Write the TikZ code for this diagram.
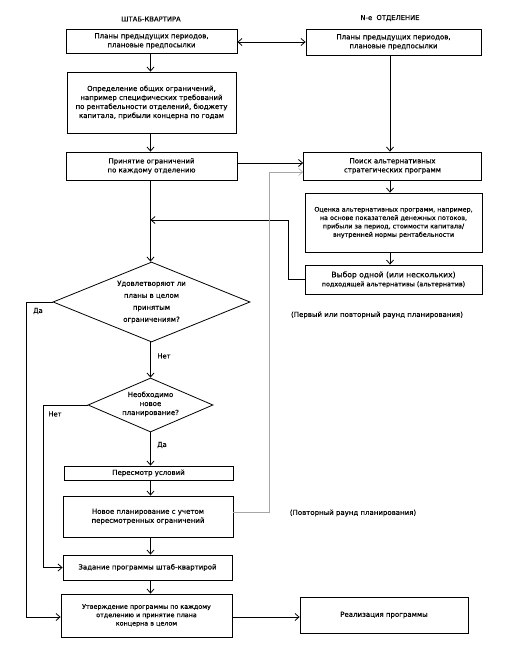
\documentclass[tikz,border=0pt]{standalone}
\usepackage{fontspec}
\setmainfont{DejaVu Sans}[FakeBold=0.35]
\usetikzlibrary{arrows.meta,shapes.geometric}
\begin{document}
\begin{tikzpicture}[x=1pt,y=-1pt,
  box/.style={draw, line width=0.8pt, inner sep=0pt, align=center, font=\fontsize{7}{9}\selectfont},
  dia/.style={draw, diamond, line width=0.8pt, inner sep=0pt},
  txt/.style={align=center, font=\fontsize{7}{9}\selectfont, inner sep=0pt},
  small/.style={font=\fontsize{6.4}{8.4}\selectfont},
  note/.style={font=\fontsize{7}{9}\selectfont},
  ttl/.style={font=\fontsize{6.8}{8}\selectfont, inner sep=0pt},
  lbl/.style={font=\fontsize{6.8}{8}\selectfont, inner sep=0pt},
  ln/.style={line width=0.8pt},
  arw/.style={line width=0.8pt, -{Straight Barb[length=4pt,width=7pt]}},
  darw/.style={line width=0.8pt, {Straight Barb[length=4pt,width=7pt]}-{Straight Barb[length=4pt,width=7pt]}},
  garw/.style={line width=0.6pt, draw=black!35, -{Straight Barb[length=4pt,width=7pt]}},
]
\useasboundingbox (0,0) rectangle (518,648);

% titles
\node[ttl] (t1) at (151,19) {ШТАБ-КВАРТИРА};
\node[ttl] (t2) at (390,18) {N-е\ \ ОТДЕЛЕНИЕ};

% left column
\node[box, minimum width=171pt, minimum height=24pt] (A) at (151.5,41) {Планы предыдущих периодов,\\ плановые предпосылки};
\node[box, minimum width=169pt, minimum height=61pt] (C) at (151.5,102.5) {Определение общих ограничений,\\ например специфических требований\\ по рентабельности отделений, бюджету\\ капитала, прибыли концерна по годам};
\node[box, minimum width=171pt, minimum height=28pt] (D) at (151.5,166) {Принятие ограничений\\ по каждому отделению};

% right column
\node[box, minimum width=175pt, minimum height=26pt] (B) at (393.5,42) {Планы предыдущих периодов,\\ плановые предпосылки};
\node[box, minimum width=178pt, minimum height=28pt] (E) at (392.5,166) {Поиск альтернативных\\ стратегических программ};
\node[box, small, minimum width=177pt, minimum height=59pt] (F) at (393.5,222.5) {Оценка альтернативных программ, например,\\ на основе показателей денежных потоков,\\ прибыли за период, стоимости капитала/\\ внутренней нормы рентабельности};
\node[box, minimum width=177pt, minimum height=29pt] (G) at (393.5,279.5) {{\fontsize{7.6}{9}\selectfont Выбор одной (или нескольких)}\\ {\fontsize{6.4}{8.4}\selectfont подходящей альтернативы (альтернатив)}};
\node[txt, note] (n1) at (377,315) {(Первый или повторный раунд планирования)};

% decisions
\node[dia, minimum width=197pt, minimum height=80pt] (Q1) at (151.5,302) {};
\node[txt, font=\fontsize{7}{12}\selectfont] (Q1t) at (151.5,302) {Удовлетворяют ли\\ планы в целом\\ принятым\\ ограничениям?};
\node[dia, minimum width=125pt, minimum height=54pt] (Q2) at (150.5,405) {};
\node[txt] (Q2t) at (150.5,404) {Необходимо\\ новое\\ планирование?};

% lower boxes
\node[box, minimum width=169pt, minimum height=14pt] (H) at (148.5,473) {Пересмотр условий};
\node[box, minimum width=170pt, minimum height=41pt] (I) at (148,516.5) {Новое планирование с учетом\\ пересмотренных ограничений};
\node[txt, note] (n2) at (353,513) {(Повторный раунд планирования)};
\node[box, minimum width=169pt, minimum height=25pt] (J) at (147.5,567.5) {Задание программы штаб-квартирой};
\node[box, small, minimum width=171pt, minimum height=43pt] (L) at (146.5,615.5) {Утверждение программы по каждому\\ отделению и принятие плана\\ концерна в целом};
\node[box, minimum width=168pt, minimum height=36pt] (M) at (384,615) {Реализация программы};

% helper coordinates
\coordinate (xr1) at (269,0);
\coordinate (xr2) at (288,0);
\coordinate (m1) at (150.5,220);
\coordinate (xl1) at (26,0);
\coordinate (xl2) at (43,0);

% connectors
\draw[darw] (A.east |- 0,42) -- (B.west |- 0,42);
\draw[arw] (A.south -| 150.5,0) -- (C.north -| 150.5,0);
\draw[arw] (C.south -| 150.5,0) -- (D.north -| 150.5,0);
\draw[arw] (B.south -| 390,0) -- (E.north -| 390,0);
\draw[arw] (E.south -| 390,0) -- (F.north -| 390,0);
\draw[arw] (F.south -| 390,0) -- (G.north -| 390,0);
\draw[arw] ([yshift=3pt]D.east) -- ([yshift=3pt]E.west);
\draw[arw] (G.west) -- (G.west -| xr2) |- (m1);
\draw[garw] ([yshift=4pt]I.east) -- ([yshift=4pt]I.east -| xr1) |- ([yshift=-6pt]E.west);
\draw[arw] (D.south -| 150.5,0) -- (Q1.north -| 150.5,0);
\draw[arw] (Q1.south -| 150.5,0) -- (Q2.north -| 150.5,0);
\draw[arw] (Q2.south -| 150.5,0) -- (H.north -| 150.5,0);
\draw[arw] (H.south -| 150.5,0) -- (I.north -| 150.5,0);
\draw[arw] (I.south -| 150.5,0) -- (J.north -| 150.5,0);
\draw[arw] (J.south -| 150.5,0) -- (L.north -| 150.5,0);
\draw[arw] ([yshift=-1.5pt]L.east) -- ([yshift=-1.5pt]L.east -| M.west);
\draw[arw] (Q1.west) -- (Q1.west -| xl1) |- ([yshift=-1.5pt]L.west);
\draw[arw] (Q2.west) -- (Q2.west -| xl2) |- (J.west);

% labels
\node[lbl] (y1) at (38,311) {Да};
\node[lbl] (n3) at (164,356) {Нет};
\node[lbl] (n4) at (55,414) {Нет};
\node[lbl] (y2) at (162,445) {Да};
\end{tikzpicture}
\end{document}
